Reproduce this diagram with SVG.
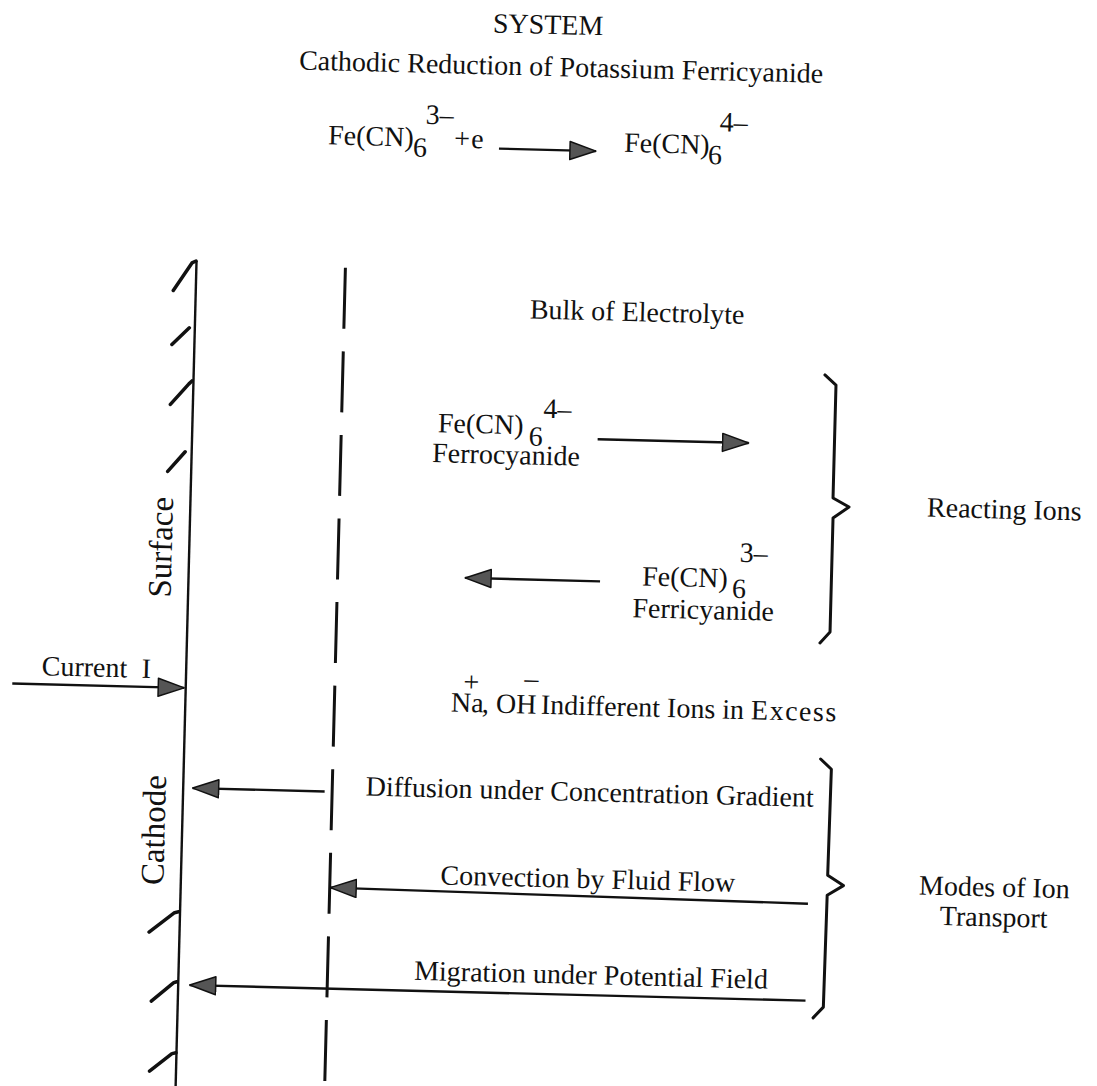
<svg xmlns="http://www.w3.org/2000/svg" width="1097" height="1086" viewBox="0 0 1097 1086">
<defs>
<style>
text{font-family:"Liberation Serif","Times New Roman",serif;font-size:28px;fill:#111}
.ln{stroke:#111;stroke-width:2.4;fill:none}
.hatch{stroke:#111;stroke-width:3.5;stroke-linecap:round;stroke-linejoin:round;fill:none}
.dash{stroke:#111;stroke-width:3;stroke-dasharray:61 22.6;fill:none}
.brace{stroke:#111;stroke-width:3;fill:none;stroke-linejoin:round;stroke-linecap:round}
.arr{stroke:#111;stroke-width:2.4;fill:none;marker-end:url(#ah)}
.rot{font-size:33px;text-anchor:middle}
</style>
<marker id="ah" markerUnits="userSpaceOnUse" markerWidth="30" markerHeight="22" refX="27" refY="10" orient="auto">
<path d="M1,1 L27,10 L1,19 Z" fill="#555" stroke="#111" stroke-width="1.5" stroke-linejoin="round"/>
</marker>
</defs>
<rect width="1097" height="1086" fill="#fff"/>
<g transform="rotate(1.45 548 543)">
<g id="title">
<text x="535" y="34" text-anchor="middle">SYSTEM</text>
<text x="287" y="76">Cathodic Reduction of Potassium Ferricyanide</text>
</g>
<g id="equation">
<text x="318" y="150" font-size="27">Fe(CN)</text>
<text x="403" y="160" font-size="27">6</text>
<text x="415" y="127" font-size="27">3–</text>
<text x="444" y="150" font-size="21">+</text>
<text x="461" y="150" font-size="26">e</text>
<text x="614" y="150" font-size="27">Fe(CN)</text>
<text x="698" y="160" font-size="27">6</text>
<text x="709" y="127" font-size="27">4–</text>
</g>
<g id="cathode">
<line class="ln" x1="189.5" y1="270" x2="189.5" y2="1100"/>
<path class="hatch" d="M189,270 L185,272 L167,300 M184,337 L167,354 M188,390 L185,393 L167,414 M183,461 L166,481 M188,921 L184,922 L159,942 M188,991 L185,992 L163,1011 M189,1062 L185,1063 L163,1081"/>
<text class="rot" transform="translate(172 557) rotate(-90)">Surface</text>
<text class="rot" transform="translate(172 840) rotate(-90)">Cathode</text>
</g>
<g id="boundary">
<line class="dash" x1="338.5" y1="273" x2="338.5" y2="1100"/>
</g>
<g id="current">
<text x="45" y="688">Current</text>
<text x="145" y="688">I</text>
</g>
<g id="bulk">
<text x="524" y="319">Bulk of Electrolyte</text>
</g>
<g id="ferrocyanide">
<text x="435" y="435" font-size="29">Fe(CN)</text>
<text x="526" y="446" font-size="29">6</text>
<text x="540" y="418" font-size="27">4–</text>
<text x="430" y="465">Ferrocyanide</text>
</g>
<g id="ferricyanide">
<text x="643" y="583" font-size="29">Fe(CN)</text>
<text x="733" y="593" font-size="29">6</text>
<text x="740" y="557" font-size="27">3–</text>
<text x="634" y="615">Ferricyanide</text>
</g>
<g id="reacting-ions">
<path class="brace" d="M820.6,368 L831.9,377.8 L831.8,490.8 L848,499.4 L832.3,510.8 L832.2,624.9 L822.4,636.1"/>
<text x="926" y="507">Reacting Ions</text>
</g>
<g id="indifferent-ions">
<text x="455" y="714">Na</text>
<text x="467" y="693" font-size="22">+</text>
<text x="486" y="714">, OH</text>
<text x="528" y="688" font-size="24">–</text>
<text x="545" y="714">Indifferent Ions in <tspan letter-spacing="1.5">Excess</tspan></text>
</g>
<g id="diffusion">
<text x="372" y="800">Diffusion under Concentration Gradient</text>
</g>
<g id="convection">
<text x="449" y="887">Convection by Fluid Flow</text>
</g>
<g id="migration">
<text x="425" y="983">Migration under Potential Field</text>
</g>
<g id="modes">
<path class="brace" d="M826,752 L837,762 L836,868 L852,878 L836,888 L835,1000 L825,1011"/>
<text x="1003" y="885" text-anchor="middle">Modes of Ion</text>
<text x="1003" y="915" text-anchor="middle">Transport</text>
</g>
<g id="connectors">
<line class="arr" x1="489" y1="150" x2="586" y2="150"/>
<line class="arr" x1="16" y1="697" x2="188" y2="697"/>
<line class="arr" x1="595" y1="438" x2="746" y2="438"/>
<line class="arr" x1="601" y1="580" x2="466" y2="580"/>
<line class="arr" x1="331" y1="797" x2="199" y2="797"/>
<line class="arr" x1="817" y1="897" x2="339" y2="893"/>
<line class="arr" x1="817" y1="994" x2="201" y2="994"/>
</g>
</g>
</svg>
